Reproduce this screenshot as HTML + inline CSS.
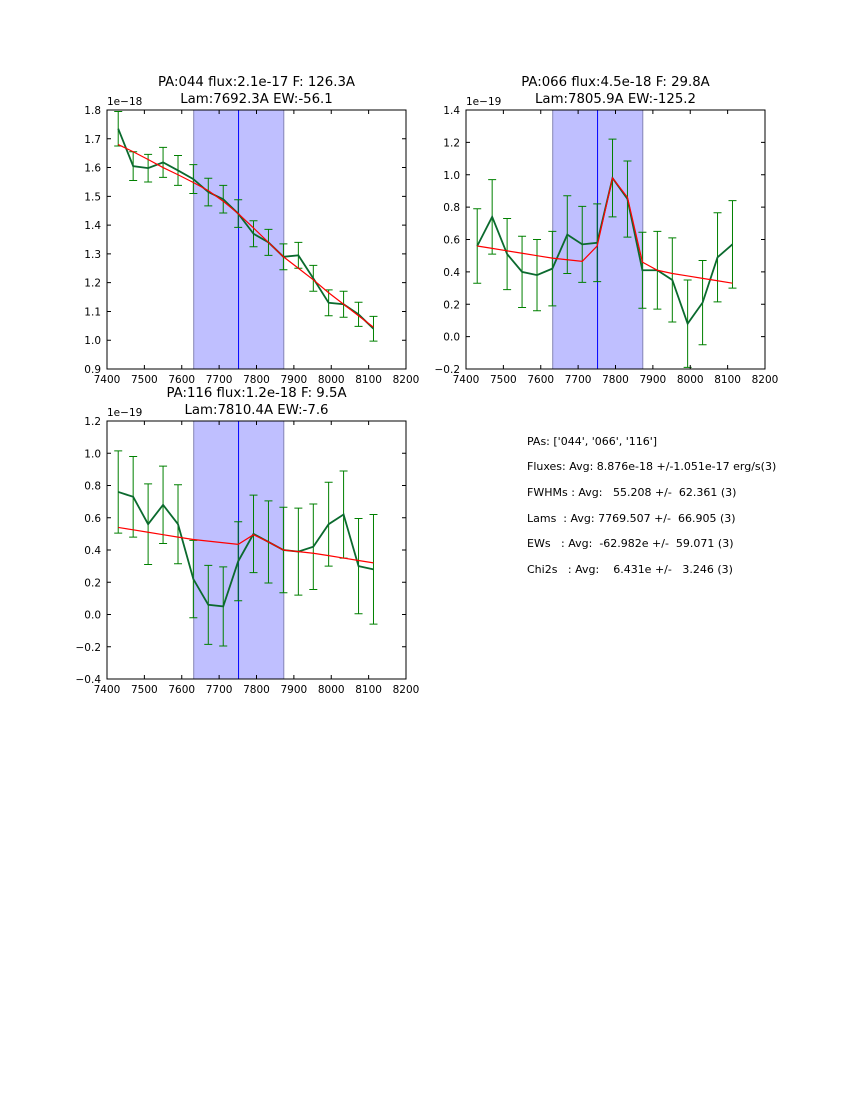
<!DOCTYPE html>
<html><head><meta charset="utf-8"><style>
body{margin:0;background:#fff;width:850px;height:1100px;overflow:hidden}
svg{font-family:"DejaVu Sans","Liberation Sans",sans-serif}
</style></head><body>
<svg id="fig" width="850" height="1100">
<g font-size="11" fill="#000">
<text x="527" y="445">PAs: ['044', '066', '116']</text>
<text x="527" y="470" xml:space="preserve">Fluxes: Avg: 8.876e-18 +/-1.051e-17 erg/s(3)</text>
<text x="527" y="496" xml:space="preserve">FWHMs : Avg:   55.208 +/-  62.361 (3)</text>
<text x="527" y="522" xml:space="preserve">Lams  : Avg: 7769.507 +/-  66.905 (3)</text>
<text x="527" y="547" xml:space="preserve">EWs   : Avg:  -62.982e +/-  59.071 (3)</text>
<text x="527" y="573" xml:space="preserve">Chi2s   : Avg:    6.431e +/-   3.246 (3)</text>
</g>
</svg>
<script>
const wave = [7430,7470,7510,7550,7590,7631,7671,7711,7751,7792,7832,7872,7912,7952,7993,8033,8073,8113];
const flux1 = [1.735,1.605,1.598,1.618,1.59,1.56,1.515,1.49,1.44,1.37,1.34,1.29,1.295,1.215,1.13,1.125,1.09,1.04];
const err1 = [0.06,0.05,0.048,0.052,0.052,0.05,0.048,0.048,0.048,0.045,0.045,0.045,0.045,0.045,0.045,0.045,0.042,0.043];
const fit1 = [1.68,1.655,1.628,1.60,1.575,1.548,1.52,1.483,1.44,1.39,1.34,1.29,1.25,1.21,1.165,1.125,1.085,1.045];
const flux2 = [0.56,0.74,0.51,0.40,0.38,0.42,0.63,0.57,0.58,0.98,0.85,0.41,0.41,0.35,0.08,0.21,0.49,0.57];
const err2 = [0.23,0.23,0.22,0.22,0.22,0.23,0.24,0.235,0.24,0.24,0.235,0.235,0.24,0.26,0.27,0.26,0.275,0.27];
const fit2 = [0.56,0.545,0.53,0.515,0.50,0.485,0.475,0.465,0.56,0.98,0.86,0.46,0.41,0.39,0.375,0.36,0.345,0.33];
const flux3 = [0.76,0.73,0.56,0.68,0.56,0.22,0.06,0.05,0.33,0.50,0.45,0.40,0.39,0.42,0.56,0.62,0.30,0.28];
const err3 = [0.255,0.25,0.25,0.24,0.245,0.24,0.245,0.245,0.245,0.24,0.255,0.265,0.27,0.265,0.26,0.27,0.295,0.34];
const fit3 = [0.54,0.525,0.51,0.495,0.48,0.465,0.455,0.445,0.435,0.495,0.45,0.40,0.39,0.38,0.365,0.35,0.335,0.32];
const xTicks = [7400,7500,7600,7700,7800,7900,8000,8100,8200];
const yTicks1 = [0.9,1.0,1.1,1.2,1.3,1.4,1.5,1.6,1.7,1.8];
const yTicks2 = [-0.2,0.0,0.2,0.4,0.6,0.8,1.0,1.2,1.4];
const yTicks3 = [-0.4,-0.2,0.0,0.2,0.4,0.6,0.8,1.0,1.2];
const spans = [[7632,7873,7752],[7632,7873,7752],[7632,7873,7752]];
const NS='http://www.w3.org/2000/svg';
const fig=document.getElementById('fig');
function mk(tag,attrs,parent){const e=document.createElementNS(NS,tag);for(const k in attrs)e.setAttribute(k,attrs[k]);(parent||fig).appendChild(e);return e;}
function panel(id,L,T,R,B,ymin,ymax,yt,dec,expo,t1,t2,flux,err,fit,span){
  const g=mk('g',{});
  
  
  const sx=v=>L+(v-7400)/800*(R-L);
  const sy=v=>B-(v-ymin)/(ymax-ymin)*(B-T);
  const cx=(L+R)/2;
  const tt1=mk('text',{x:cx,y:T-24,'text-anchor':'middle','font-size':13.3},g);tt1.textContent=t1;
  
  
  const tt2=mk('text',{x:cx,y:T-7,'text-anchor':'middle','font-size':13.3},g);tt2.textContent=t2;
  
  
  const sp=mk('rect',{x:sx(span[0]),y:T,width:sx(span[1])-sx(span[0]),height:B-T,fill:'#bfbfff',stroke:'#8585b5','stroke-width':1},g);
  
  
  const cl=mk('line',{x1:sx(span[2]),x2:sx(span[2]),y1:T,y2:B,stroke:'#0000ff','stroke-width':1},g);
  
  
  for(let i=0;i<wave.length;i++){
    const x=sx(wave[i]),y0=sy(flux[i]-err[i]),y1=sy(flux[i]+err[i]);
    const eb=mk('path',{d:`M${x},${y0}V${y1}M${x-4},${y0}h8M${x-4},${y1}h8`,stroke:'#008000','stroke-width':1,fill:'none'},g);
    
    
  }
  const dl=mk('polyline',{points:wave.map((w,i)=>sx(w)+','+sy(flux[i])).join(' '),stroke:'#0b6a2e','stroke-width':1.8,fill:'none'},g);
  
  
  const fl=mk('polyline',{points:wave.map((w,i)=>sx(w)+','+sy(fit[i])).join(' '),stroke:'#ff0000','stroke-width':1.2,fill:'none'},g);
  
  
  const fr=mk('rect',{x:L,y:T,width:R-L,height:B-T,fill:'none',stroke:'#000','stroke-width':1},g);
  
  
  xTicks.forEach(v=>{const x=sx(v);
    mk('path',{d:`M${x},${B}v-4M${x},${T}v4`,stroke:'#000','stroke-width':1},g);
    const t=mk('text',{x:x,y:B+14,'text-anchor':'middle','font-size':10.5},g);t.textContent=v;
    
    });
  yt.forEach(v=>{const y=sy(v);
    mk('path',{d:`M${L},${y}h4M${R},${y}h-4`,stroke:'#000','stroke-width':1},g);
    const t=mk('text',{x:L-6,y:y+4,'text-anchor':'end','font-size':10.5},g);t.textContent=(v<0?'\u2212':'')+Math.abs(v).toFixed(dec);
    
    });
  const ex=mk('text',{x:L,y:T-5,'font-size':10.5},g);ex.textContent='1e\u2212'+expo;
  
  
}
panel('panel-pa044',107,110,406,369,0.9,1.8,yTicks1,1,'18','PA:044 flux:2.1e-17 F: 126.3A','Lam:7692.3A EW:-56.1',flux1,err1,fit1,spans[0]);
panel('panel-pa066',466,110,765,369,-0.2,1.4,yTicks2,1,'19','PA:066 flux:4.5e-18 F: 29.8A','Lam:7805.9A EW:-125.2',flux2,err2,fit2,spans[1]);
panel('panel-pa116',107,421,406,679,-0.4,1.2,yTicks3,1,'19','PA:116 flux:1.2e-18 F: 9.5A','Lam:7810.4A EW:-7.6',flux3,err3,fit3,spans[2]);
</script>
</body></html>
